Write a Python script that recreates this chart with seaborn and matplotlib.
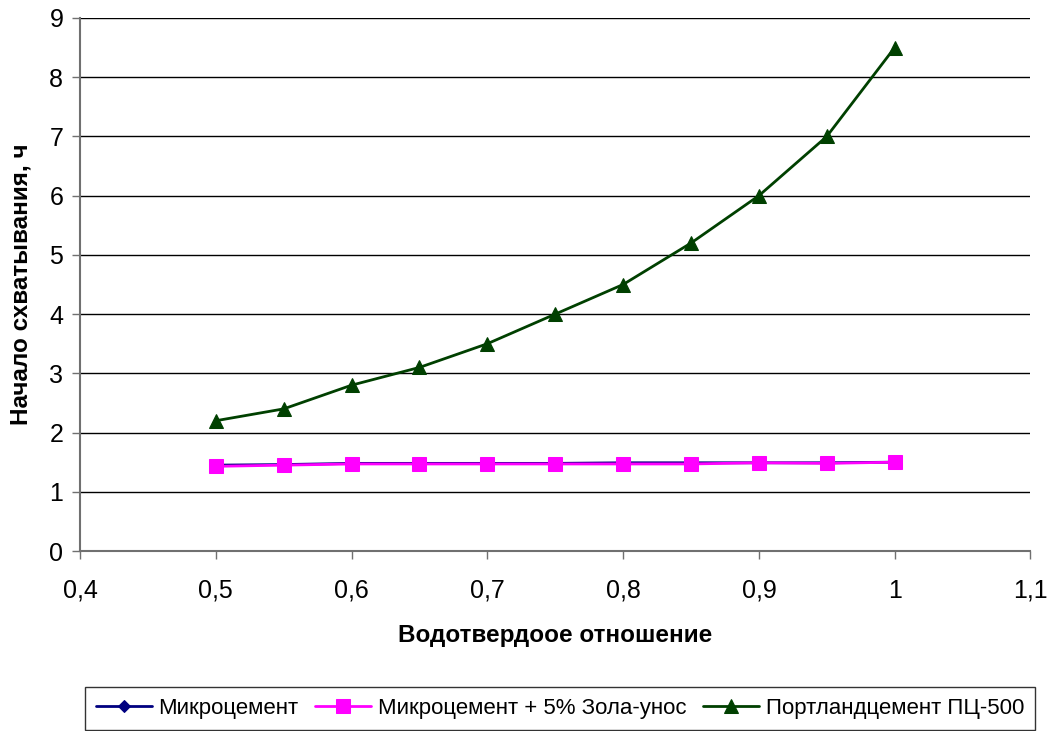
import numpy as np
import pandas as pd
import matplotlib
matplotlib.use('Agg')
import matplotlib.pyplot as plt
import seaborn as sns

# Data
wc_ratio = [0.5, 0.55, 0.6, 0.65, 0.7, 0.75, 0.8, 0.85, 0.9, 0.95, 1.0]
micro = [1.45, 1.46, 1.48, 1.48, 1.48, 1.48, 1.49, 1.49, 1.49, 1.49, 1.50]
micro_ash = [1.43, 1.45, 1.47, 1.47, 1.47, 1.47, 1.47, 1.47, 1.49, 1.48, 1.50]
portland = [2.2, 2.4, 2.8, 3.1, 3.5, 4.0, 4.5, 5.2, 6.0, 7.0, 8.5]

series_names = ['Микроцемент', 'Микроцемент + 5% Зола-унос', 'Портландцемент ПЦ-500']
colors = ['#000080', '#FF00FF', '#004000']
markers = ['D', 's', '^']
marker_sizes = [6, 10, 10]

x_ticks = [0.4, 0.5, 0.6, 0.7, 0.8, 0.9, 1.0, 1.1]
x_labels = ['0,4', '0,5', '0,6', '0,7', '0,8', '0,9', '1', '1,1']
y_ticks = list(range(0, 10))

df = pd.DataFrame({
    'x': wc_ratio * 3,
    'y': micro + micro_ash + portland,
    'series': [series_names[0]] * len(wc_ratio) + [series_names[1]] * len(wc_ratio) + [series_names[2]] * len(wc_ratio),
})

sns.set_style('white')
plt.rcParams['font.family'] = ['Liberation Sans', 'DejaVu Sans']
plt.rcParams['text.color'] = 'black'
plt.rcParams['axes.labelcolor'] = 'black'
plt.rcParams['xtick.labelcolor'] = 'black'
plt.rcParams['ytick.labelcolor'] = 'black'

fig = plt.figure(figsize=(10.49, 7.31), dpi=100)
ax = fig.add_axes([0.0763, 0.2462, 0.906, 0.7292])

for name, col, mk, ms in zip(series_names, colors, markers, marker_sizes):
    sub = df[df['series'] == name]
    sns.lineplot(data=sub, x='x', y='y', ax=ax, color=col, marker=mk,
                 markersize=ms, markeredgecolor=col, linewidth=2, label=name)

ax.set_xlim(0.4, 1.1)
ax.set_ylim(0, 9)
ax.set_xticks(x_ticks)
ax.set_xticklabels(x_labels)
ax.set_yticks(y_ticks)
ax.yaxis.grid(True, color='black', linewidth=1)
ax.xaxis.grid(False)
ax.set_axisbelow(True)

for s in ['top', 'right']:
    ax.spines[s].set_visible(False)
for s in ['left', 'bottom']:
    ax.spines[s].set_color('#707070')
    ax.spines[s].set_linewidth(1.5)

ax.tick_params(axis='both', direction='out', length=6, width=1, color='#707070',
               labelsize=18, pad=6, bottom=True, left=True, labelcolor='black')
ax.tick_params(axis='x', pad=14)

ax.set_xlabel('Водотвердоое отношение', fontsize=17.5, fontweight='bold', labelpad=15)
ax.set_ylabel('Начало схватывания, ч', fontsize=17.5, fontweight='bold', labelpad=12)

handles, labels = ax.get_legend_handles_labels()
ax.get_legend().remove()
leg = fig.legend(handles, labels, loc='lower left',
                 bbox_to_anchor=(85 / 1049, 1 / 731, 950 / 1049, 46 / 731),
                 mode='expand', ncol=3, fontsize=16, frameon=True, fancybox=False,
                 edgecolor='black', handlelength=2.5, handletextpad=0.3,
                 borderpad=0.5, borderaxespad=0)
leg.get_frame().set_linewidth(1)
for t in leg.get_texts():
    t.set_color('black')

fig.savefig('out.png', dpi=100)
